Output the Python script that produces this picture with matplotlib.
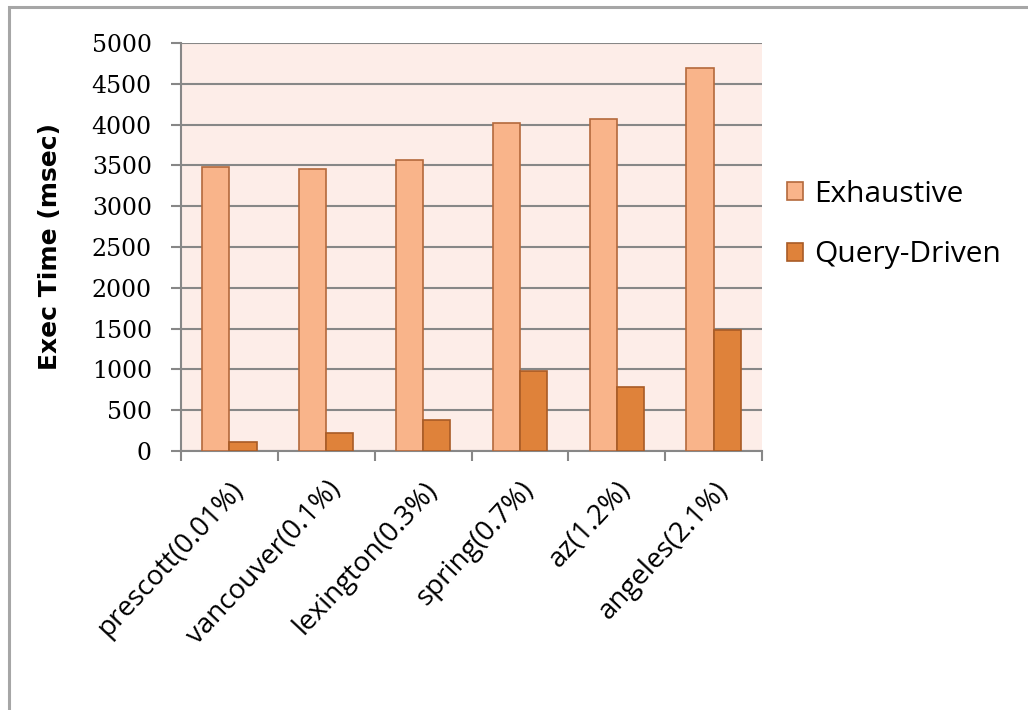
import numpy as np
import matplotlib.pyplot as plt
from matplotlib.patches import Rectangle

# execution times per dataset (msec)
datasets = ["prescott(0.01%)", "vancouver(0.1%)", "lexington(0.3%)",
            "spring(0.7%)", "az(1.2%)", "angeles(2.1%)"]
exhaustive = [3480, 3450, 3570, 4020, 4065, 4690]
query_driven = [115, 215, 380, 985, 785, 1480]
yticks = [0, 500, 1000, 1500, 2000, 2500, 3000, 3500, 4000, 4500, 5000]

fig = plt.figure(figsize=(10.28, 7.10), dpi=100)
fig.patch.set_facecolor("white")

# outer chart frame
fig.patches.append(Rectangle((9 / 1028, -0.1), 1.2, 1 - 7 / 710 + 0.1,
                             transform=fig.transFigure, fill=False,
                             edgecolor="#a6a6a6", linewidth=2.2, zorder=0))

ax = fig.add_axes([181 / 1028, 1 - 451 / 710, (762 - 181) / 1028, (451 - 43) / 710])
ax.set_facecolor("#fdede8")

x = np.arange(len(datasets))
w = 0.28
ax.bar(x - w / 2, exhaustive, w, color="#f9b48a", edgecolor="#b4693c",
       linewidth=1.2, label="Exhaustive", zorder=3)
ax.bar(x + w / 2, query_driven, w, color="#df823a", edgecolor="#a85b26",
       linewidth=1.2, label="Query-Driven", zorder=3)

ax.set_xlim(-0.5, len(datasets) - 0.5)
ax.set_ylim(0, 5000)
ax.set_yticks(yticks)
ax.yaxis.grid(True, color="#878787", linewidth=1.5, zorder=1)
ax.set_axisbelow(True)

for s in ["top", "right"]:
    ax.spines[s].set_visible(False)
for s in ["left", "bottom"]:
    ax.spines[s].set_color("#878787")
    ax.spines[s].set_linewidth(1.5)

ax.tick_params(axis="y", direction="out", length=7, width=1.5, color="#878787", pad=14)
for lab in ax.get_yticklabels():
    lab.set_fontfamily("DejaVu Serif")
    lab.set_fontsize(17)

# category boundaries get the tick marks, labels sit at the centres
ax.set_xticks(np.arange(-0.5, len(datasets)), minor=True)
ax.set_xticks(x)
ax.set_xticklabels(datasets, rotation=47, ha="right", rotation_mode="anchor",
                   fontsize=20, family="Open Sans")
ax.tick_params(axis="x", which="major", length=0, pad=18)
ax.tick_params(axis="x", which="minor", direction="out", length=7, width=1.5,
               color="#878787")

ax.set_ylabel("Exec Time (msec)", fontsize=18, fontweight="bold",
              family="DejaVu Sans")
ax.yaxis.set_label_coords(-0.205, 0.5)

fig.legend(loc="upper left", bbox_to_anchor=(760 / 1028, 1 - 153 / 710),
           frameon=False, prop={"family": "Open Sans", "size": 21.5},
           handlelength=0.55, handleheight=0.55, handletextpad=0.35,
           labelspacing=1.05)

fig.savefig("out.png", dpi=100)
